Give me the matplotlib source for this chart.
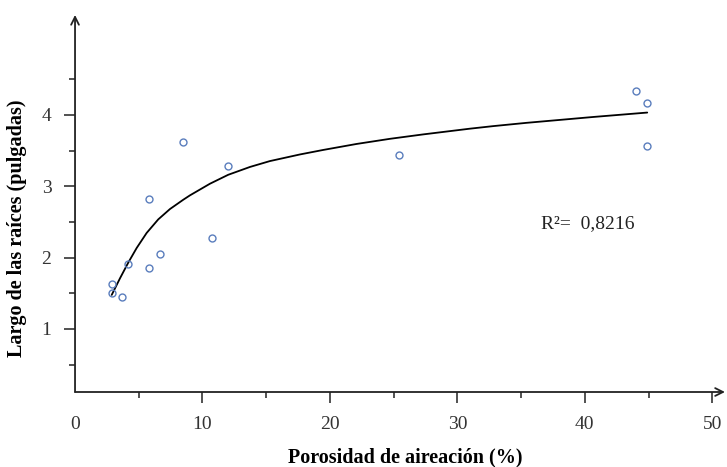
import numpy as np
import matplotlib.pyplot as plt
from matplotlib.ticker import MultipleLocator

plt.rcParams['font.family'] = ['Liberation Serif', 'DejaVu Serif']

# measured points (porosity %, root length in)
porosidad = [2.88, 2.88, 3.71, 4.16, 5.8, 5.8, 6.69, 8.5, 10.72, 12.03, 25.4, 44.0, 44.9, 44.9]
largo = [1.63, 1.50, 1.45, 1.91, 1.85, 2.82, 2.05, 3.62, 2.28, 3.28, 3.44, 4.33, 4.17, 3.56]

# fitted trend line
curva_x = [2.88, 3.53, 4.18, 4.84, 5.62, 6.53, 7.45, 8.49, 9.02, 10.59, 12.02, 13.73,
           15.29, 17.65, 19.47, 22.09, 24.71, 27.32, 30.98, 32.81, 35.43, 38.04, 40.65, 44.9]
curva_y = [1.477, 1.71, 1.93, 2.135, 2.345, 2.535, 2.68, 2.81, 2.872, 3.035, 3.16, 3.27,
           3.352, 3.445, 3.508, 3.592, 3.664, 3.726, 3.806, 3.842, 3.888, 3.929, 3.970, 4.032]

r2_text = 'R²=  0,8216'

fig = plt.figure(figsize=(7.27, 4.67), dpi=100)
ax = fig.add_axes([0.1032, 0.1606, 0.894, 0.8074])

ax.plot(curva_x, curva_y, color='black', lw=1.3, solid_capstyle='round', solid_joinstyle='round')
ax.plot(porosidad, largo, 'o', mfc='none', mec='#5a7dbd', ms=5, mew=1.0)

ax.set_xlim(0, 51)
ax.set_ylim(0.116, 5.4)

for s in ax.spines.values():
    s.set_visible(False)

# axes with arrow heads
ax.annotate('', xy=(1, 0), xytext=(0, 0), xycoords='axes fraction',
            arrowprops=dict(arrowstyle='->', color='#222222', lw=1.3,
                            mutation_scale=14, shrinkA=0, shrinkB=0))
ax.annotate('', xy=(0, 1), xytext=(0, 0), xycoords='axes fraction',
            arrowprops=dict(arrowstyle='->', color='#222222', lw=1.3,
                            mutation_scale=14, shrinkA=0, shrinkB=0))

ax.set_xticks(range(0, 51, 10))
ax.set_xticks([5, 15, 25, 35, 45], minor=True)
ax.set_yticks([1, 2, 3, 4])
ax.set_yticks([0.5, 1.5, 2.5, 3.5, 4.5], minor=True)
ax.tick_params(which='major', length=8, width=1.1, color='#222222', labelsize=14, pad=9,
               labelcolor='#333333')
ax.tick_params(which='minor', length=4.5, width=1.1, color='#222222')
# no tick at the axis corner
ax.xaxis.get_major_ticks()[0].tick1line.set_visible(False)

ax.set_xlabel('Porosidad de aireación (%)', fontsize=14.5, fontweight='bold')
ax.set_ylabel('Largo de las raíces (pulgadas)', fontsize=14.5, fontweight='bold')
ax.xaxis.set_label_coords(0.508, -0.148)
ax.yaxis.set_label_coords(-0.074, 0.435)

ax.text(36.6, 2.48, r2_text, fontsize=14, color='#222222', va='center', ha='left')

fig.savefig('out.png', dpi=100)
